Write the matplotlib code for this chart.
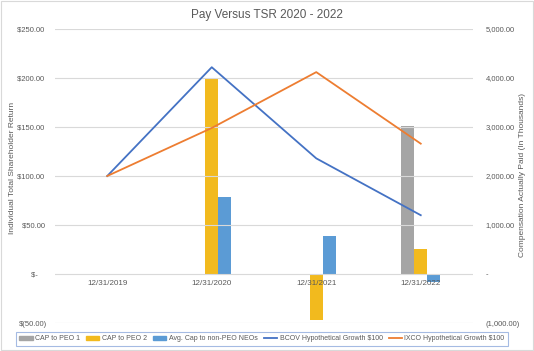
import matplotlib.pyplot as plt
from matplotlib.patches import Patch
from matplotlib.lines import Line2D
import numpy as np

# --- datos ---
fechas = ["12/31/2019", "12/31/2020", "12/31/2021", "12/31/2022"]
cap_peo1 = [0, 0, 0, 3030]
cap_peo2 = [0, 3990, -940, 510]
cap_neo = [0, 1570, 780, -160]
bcov_tsr = [100, 211, 118, 60]
ixco_tsr = [100, 149, 206, 133]

ticks_izq = [-50, 0, 50, 100, 150, 200, 250]
ticks_der = [-1000, 0, 1000, 2000, 3000, 4000, 5000]

plt.rcParams['font.family'] = ['Liberation Sans', 'DejaVu Sans']
gris_txt = '#595959'

fig = plt.figure(figsize=(5.34, 3.51), dpi=100)
ax = fig.add_axes([55 / 534, 1 - 323 / 351, 418 / 534, 294 / 351])
ax2 = ax.twinx()
# lineas encima de las barras
ax.set_zorder(ax2.get_zorder() + 1)
ax.patch.set_visible(False)

x = np.arange(len(fechas))
w = 0.125
ax2.bar(x - w, cap_peo1, w, color='#A5A5A5', label='CAP to PEO 1')
ax2.bar(x, cap_peo2, w, color='#F2BA1E', label='CAP to PEO 2')
ax2.bar(x + w, cap_neo, w, color='#5B9BD5', label='Avg. Cap to non-PEO NEOs')

ax.plot(x, bcov_tsr, color='#4472C4', lw=1.3, label='BCOV Hypothetical Growth $100')
ax.plot(x, ixco_tsr, color='#ED7D31', lw=1.3, label='IXCO Hypothetical Growth $100')

ax.set_xlim(-0.5, len(fechas) - 0.5)
ax.set_ylim(-50, 250)
ax2.set_ylim(-1000, 5000)

def fmt_izq(v):
    if v == 0:
        return '$-    '
    if v < 0:
        return '$(%.2f)' % abs(v)
    return '$%.2f ' % v

def fmt_der(v):
    if v == 0:
        return '-'
    if v < 0:
        return '(%s)' % format(abs(v), ',.2f')
    return format(v, ',.2f')

ax.set_yticks(ticks_izq)
ax.set_yticklabels([fmt_izq(v) for v in ticks_izq])
ax2.set_yticks(ticks_der)
ax2.set_yticklabels([fmt_der(v) for v in ticks_der])

ax.grid(axis='y', color='#D9D9D9', lw=0.8)
ax.set_axisbelow(True)
for a in (ax, ax2):
    for s in a.spines.values():
        s.set_visible(False)
    a.tick_params(length=0, labelsize=5.5, labelcolor=gris_txt)
ax.tick_params(axis='y', pad=6)
ax2.tick_params(axis='y', pad=9)

# etiquetas de categoria sobre la linea de cero
ax.set_xticks([])
for i, f in enumerate(fechas):
    ax.text(i, -6, f, ha='center', va='top', fontsize=5.8, color=gris_txt)

fig.text(13 / 534, 1 - 168 / 351, 'Individual Total Shareholder Return', rotation=90,
         ha='center', va='center', fontsize=6, color=gris_txt)
fig.text(522 / 534, 1 - 175 / 351, 'Compensation Actually Paid (In Thousands)', rotation=90,
         ha='center', va='center', fontsize=6, color=gris_txt)

fig.suptitle('Pay Versus TSR 2020 - 2022', y=0.975, fontsize=8.5, color=gris_txt)

handles = [
    Patch(color='#A5A5A5'), Patch(color='#F2BA1E'), Patch(color='#5B9BD5'),
    Line2D([], [], color='#4472C4', lw=1.3), Line2D([], [], color='#ED7D31', lw=1.3),
]
labels = ['CAP to PEO 1', 'CAP to PEO 2', 'Avg. Cap to non-PEO NEOs',
          'BCOV Hypothetical Growth $100', 'IXCO Hypothetical Growth $100']
leg = fig.legend(handles, labels, loc='center', bbox_to_anchor=(262 / 534, 1 - 339 / 351),
                 ncol=5, fontsize=5.0, frameon=True, fancybox=False, handlelength=1.9,
                 handleheight=0.45, handletextpad=0.35, columnspacing=0.9,
                 borderpad=0.45, labelcolor=gris_txt)
leg.get_frame().set_edgecolor('#8FAADC')
leg.get_frame().set_linewidth(0.8)

# borde exterior
fig.patches.append(plt.Rectangle((0.002, 0.003), 0.996, 0.994, transform=fig.transFigure,
                                 fill=False, edgecolor='#D9D9D9', lw=0.8))

fig.savefig('out.png', dpi=100)
